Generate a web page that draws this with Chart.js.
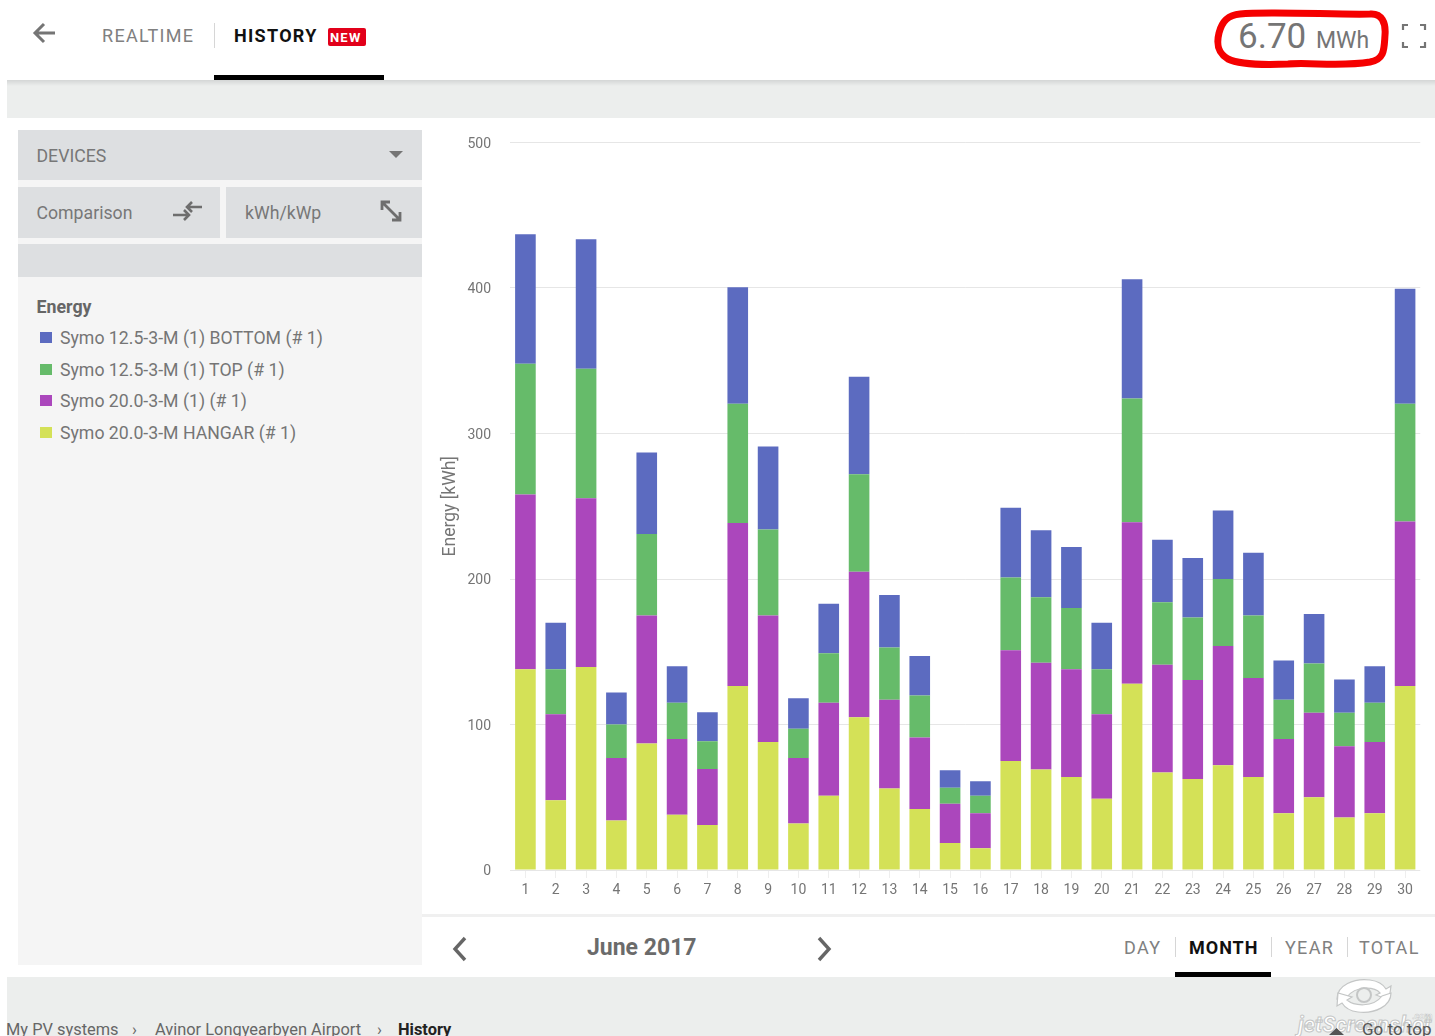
<!DOCTYPE html>
<html>
<head>
<meta charset="utf-8">
<title>History</title>
<script src="https://cdn.jsdelivr.net/npm/chart.js@4/dist/chart.umd.min.js"></script>
<style>
html, body { margin: 0; padding: 0; background: #fff; }
body { position: relative; width: 1435px; height: 1036px; overflow: hidden; font-family: Roboto, sans-serif; color: #757575; }
.box, .t, svg.abs, canvas { position: absolute; }
.t { white-space: nowrap; line-height: 1; }
.grey { background: #dddfe1; }
.band { background: #eceeed; }
.tab { font-size: 18px; letter-spacing: 1.3px; color: #808080; }
.tab.on { color: #111; font-weight: 700; }
.sep { background: #d6d6d6; width: 1px; }
.ctl { font-size: 17.7px; color: #777; }
.leg { font-size: 17.7px; color: #757575; }
.crumb { font-size: 16.4px; color: #666; top: 1022px; }
</style>
</head>
<body>
<!-- page blocks -->
<div class="box band" style="left:7px;top:80px;width:1428px;height:38px"></div>
<div class="box" style="left:7px;top:80px;width:1428px;height:6px;background:linear-gradient(#d4d6d6,#eceeed)"></div>
<div class="box" style="left:18px;top:130px;width:404px;height:835px;background:#f5f5f5"></div>
<div class="box grey" style="left:18px;top:130px;width:404px;height:50px"></div>
<div class="box grey" style="left:18px;top:187px;width:202px;height:51px"></div>
<div class="box grey" style="left:226px;top:187px;width:196px;height:51px"></div>
<div class="box grey" style="left:18px;top:244px;width:404px;height:33px"></div>
<div class="box" style="left:422px;top:914px;width:1013px;height:3px;background:#f0f0f0"></div>
<div class="box band" style="left:7px;top:977px;width:1428px;height:59px"></div>

<!-- header -->
<svg class="abs" style="left:31px;top:20px" width="28" height="26" viewBox="0 0 28 26"><path d="M24 13H5M13 4l-9 9 9 9" fill="none" stroke="#757575" stroke-width="3"/></svg>
<div class="t tab" style="left:102px;top:27px">REALTIME</div>
<div class="box sep" style="left:214px;top:23px;height:25px"></div>
<div class="t tab on" style="left:234px;top:27px">HISTORY</div>
<div class="box" style="left:328px;top:28px;width:38px;height:18px;background:#e2001a;border-radius:2px"></div>
<div class="t" style="left:330px;top:31px;font-size:13px;font-weight:700;letter-spacing:1.2px;color:#fff">NEW</div>
<div class="box" style="left:214px;top:75px;width:170px;height:5px;background:#000"></div>
<svg class="abs" style="left:1210px;top:5px" width="185" height="68" viewBox="0 0 185 68"><path d="M30 9C60 6 130 10 160 9 172 8 176 18 175 30 174 44 175 54 160 57 130 62 100 57 78 59 55 60 30 60 18 54 8 48 6 40 9 28 12 16 18 10 30 9Z" fill="none" stroke="#f50000" stroke-width="7"/></svg>
<div class="t" style="left:1238px;top:19px;font-size:35px;color:#757575">6.70</div>
<div class="t" style="left:1316px;top:29px;font-size:23px;color:#757575">MWh</div>
<svg class="abs" style="left:1400px;top:22px" width="28" height="28" viewBox="0 0 28 28"><path d="M3 8V3h5M20 3h5v5M25 20v5h-5M8 25H3v-5" fill="none" stroke="#757575" stroke-width="2.2"/></svg>

<!-- sidebar -->
<div class="t ctl" style="left:36.5px;top:148px">DEVICES</div>
<svg class="abs" style="left:389px;top:151px" width="14" height="8"><path d="M0 0h14L7 7z" fill="#757575"/></svg>
<div class="t ctl" style="left:36.5px;top:205px">Comparison</div>
<svg class="abs" style="left:172px;top:200px" width="32" height="24" viewBox="0 0 32 24"><path d="M1 15h16M12 10l5 5-5 5M30 7H15M20 2l-5 5 5 5" fill="none" stroke="#6e6e6e" stroke-width="2.6"/></svg>
<div class="t ctl" style="left:245px;top:205px">kWh/kWp</div>
<svg class="abs" style="left:379px;top:199px" width="24" height="24" viewBox="0 0 24 24"><path d="M4 4l17 17M3 11V3h8M21 13v8h-8" fill="none" stroke="#6e6e6e" stroke-width="2.8"/></svg>
<div class="t" style="left:36.5px;top:298px;font-size:17.8px;font-weight:700;color:#666">Energy</div>
<div id="legend"></div>

<!-- chart -->
<canvas id="energy-chart" width="1013" height="797" style="left:422px;top:118px;width:1013px;height:797px"></canvas>

<!-- period navigation -->
<svg class="abs" style="left:450px;top:935px" width="20" height="28" viewBox="0 0 20 28"><path d="M15 3L5 14l10 11" fill="none" stroke="#666" stroke-width="3.4"/></svg>
<div class="t" style="left:587px;top:936px;font-size:23px;font-weight:700;color:#6b6b6b">June 2017</div>
<svg class="abs" style="left:814px;top:935px" width="20" height="28" viewBox="0 0 20 28"><path d="M5 3l10 11L5 25" fill="none" stroke="#666" stroke-width="3.4"/></svg>
<div class="t tab" style="left:1124px;top:939px">DAY</div>
<div class="box sep" style="left:1175px;top:937px;height:20px"></div>
<div class="t tab on" style="left:1189px;top:939px;letter-spacing:1px">MONTH</div>
<div class="box sep" style="left:1271px;top:937px;height:20px"></div>
<div class="t tab" style="left:1285px;top:939px">YEAR</div>
<div class="box sep" style="left:1347px;top:937px;height:20px"></div>
<div class="t tab" style="left:1359px;top:939px">TOTAL</div>
<div class="box" style="left:1175px;top:972px;width:96px;height:5px;background:#000"></div>

<!-- breadcrumb and watermark -->
<div class="t crumb" style="left:6px">My PV systems</div>
<div class="t crumb" style="left:132px">›</div>
<div class="t crumb" style="left:155px">Avinor Longyearbyen Airport</div>
<div class="t crumb" style="left:377px">›</div>
<div class="t crumb" style="left:398px;font-weight:700;color:#222">History</div>
<svg class="abs" style="left:1332px;top:975px" width="64" height="42" viewBox="0 0 64 42">
  <path d="M5 24C5 10 22 3 38 5c8 1 13 4 16 9l5-3-2 14-13-5 4-2C43 12 24 10 15 22z" fill="#fff" stroke="#c4c6c6" stroke-width="1.2"/>
  <path d="M59 18c0 13-16 21-33 19-8-1-13-4-16-9l-5 3 1-13 14 4-5 3c7 6 26 8 35-4z" fill="#fff" stroke="#c4c6c6" stroke-width="1.2"/>
  <circle cx="32" cy="20" r="7" fill="none" stroke="#c4c6c6" stroke-width="2"/>
</svg>
<div class="t" style="left:1298px;top:1014px;font-size:22px;font-style:italic;font-weight:700;color:#fff;-webkit-text-stroke:1px #c4c6c6">jetScreenshot</div>
<div class="t" style="left:1412px;top:1012px;font-size:9px;font-weight:700;color:#fff;-webkit-text-stroke:0.5px #c4c6c6">.com</div>
<svg class="abs" style="left:1329px;top:1028px" width="15" height="7"><path d="M0 7L7.5 0 15 7z" fill="#555"/></svg>
<div class="t" style="left:1362px;top:1021px;font-size:17px;color:#555">Go to top</div>

<script>
// Sample data
const days = ['1','2','3','4','5','6','7','8','9','10','11','12','13','14','15','16','17','18','19','20','21','22','23','24','25','26','27','28','29','30'];
const yTicks = [0, 100, 200, 300, 400, 500];
const seriesNames = ['Symo 20.0-3-M HANGAR (# 1)', 'Symo 20.0-3-M (1) (# 1)', 'Symo 12.5-3-M (1) TOP (# 1)', 'Symo 12.5-3-M (1) BOTTOM (# 1)'];
const hangar = [138, 48, 139.5, 34, 87, 38, 31, 126.5, 88, 32, 51, 105, 56, 42, 18.5, 15, 75, 69, 64, 49, 128, 67, 62.5, 72, 64, 39, 50, 36, 39, 126.5];
const symo20 = [120, 59, 116, 43, 88, 52, 38.5, 112, 87, 45, 64, 100, 61, 49, 27, 24, 76, 73.5, 74, 58, 111, 74, 68, 82, 68, 51, 58, 49, 49, 113];
const top125 = [90, 31, 89, 23, 56, 25, 19, 82, 59, 20, 34, 67, 36, 29, 11, 12, 50, 45, 42, 31, 85, 43, 43, 46, 43, 27, 34, 23, 27, 81];
const bottom125 = [89, 32, 89, 22, 56, 25, 20, 80, 57, 21, 34, 67, 36, 27, 12, 10, 48, 46, 42, 32, 82, 43, 41, 47, 43, 27, 34, 23, 25, 79];
const seriesColors = ['#d4e157', '#ab47bc', '#66bb6a', '#5c6bc0'];

const datasets = [hangar, symo20, top125, bottom125].map((values, i) => ({
    label: seriesNames[i],
    data: values,
    backgroundColor: seriesColors[i],
    borderWidth: 0,
    stack: 'energy',
    barPercentage: 0.68,
    categoryPercentage: 1
}));

const chart = new Chart(document.getElementById('energy-chart'), {
    type: 'bar',
    data: { labels: days, datasets: datasets },
    options: {
        responsive: false,
        animation: false,
        layout: { padding: { top: 24.5, right: 14.75, bottom: 0, left: 0 } },
        plugins: { legend: { display: false }, tooltip: { enabled: false } },
        scales: {
            x: {
                stacked: true,
                afterFit: (axis) => { axis.height = 45; },
                grid: { offset: false, drawOnChartArea: false, color: '#eeeeee', tickLength: 8 },
                border: { display: false },
                ticks: { color: '#757575', font: { family: 'Roboto', size: 14 }, padding: 4, maxRotation: 0, autoSkip: false }
            },
            y: {
                stacked: true,
                min: 0,
                max: 500,
                // tick padding would otherwise push the plot area down
                afterFit: (axis) => { axis.width = 88.25; axis.paddingTop = 0; axis.paddingBottom = 0; },
                afterBuildTicks: (axis) => { axis.ticks = yTicks.map((v) => ({ value: v })); },
                grid: { color: '#e6e6e6', drawTicks: false },
                border: { display: false },
                ticks: { color: '#757575', font: { family: 'Roboto', size: 14 }, padding: 19.25, labelOffset: 1.5 },
                title: {
                    display: true,
                    text: 'Energy [kWh]',
                    color: '#757575',
                    font: { family: 'Roboto', size: 17.5 },
                    padding: { top: 18, bottom: 0 }
                }
            }
        }
    }
});

// HTML legend in the sidebar, from the chart's own datasets (top of the stack first)
const legendRoot = document.getElementById('legend');
chart.data.datasets.slice().reverse().forEach((ds, i) => {
    const y = 332 + i * 31.7;
    legendRoot.insertAdjacentHTML('beforeend',
        `<div class="box" style="left:39.5px;top:${y}px;width:12px;height:11px;background:${ds.backgroundColor}"></div>` +
        `<div class="t leg" style="left:60px;top:${y - 2}px">${ds.label}</div>`);
});
</script>
</body>
</html>
